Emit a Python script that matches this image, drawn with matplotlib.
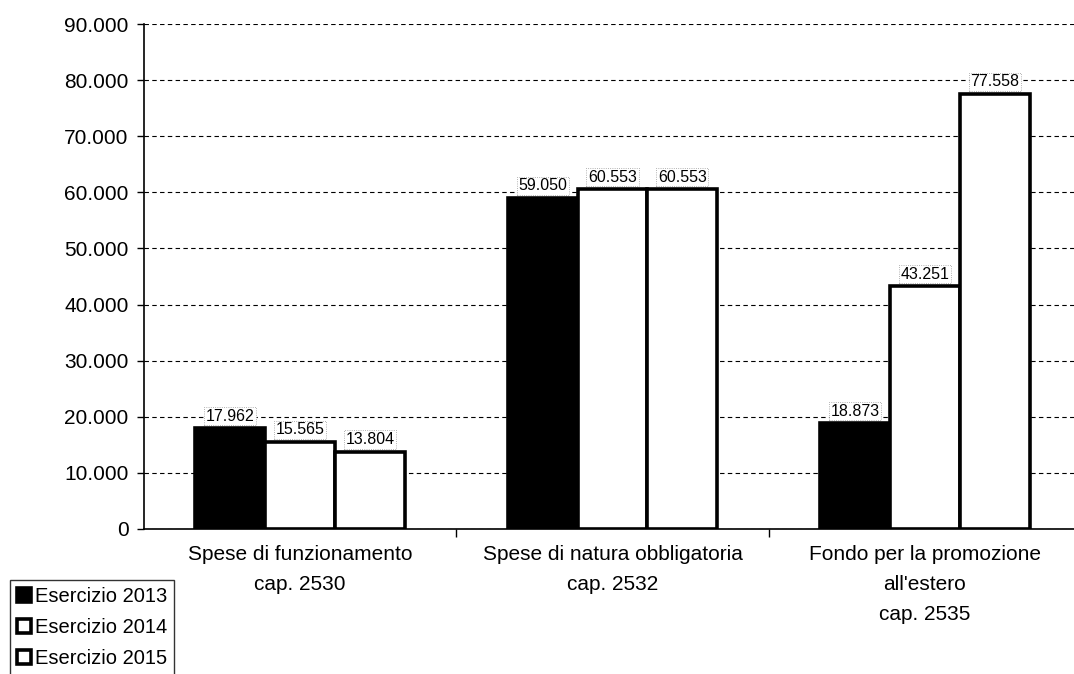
import numpy as np
import matplotlib.pyplot as plt

plt.rcParams['font.family'] = ['Liberation Sans', 'DejaVu Sans']

categories = ["Spese di funzionamento\ncap. 2530",
              "Spese di natura obbligatoria\ncap. 2532",
              "Fondo per la promozione\nall'estero\ncap. 2535"]
series_names = ["Esercizio 2013", "Esercizio 2014", "Esercizio 2015"]
v2013 = [17962, 59050, 18873]
v2014 = [15565, 60553, 43251]
v2015 = [13804, 60553, 77558]
series_values = [v2013, v2014, v2015]
colors = ["black", "white", "white"]
yticks = np.arange(0, 90001, 10000)


def it_fmt(v):
    return f"{v:,.0f}".replace(",", ".")


fig = plt.figure(figsize=(10.74, 6.74), dpi=100)
# axes run past the right edge of the page, as in the scanned original
ax = fig.add_axes([144 / 1074, 145 / 674, 937 / 1074, 505 / 674])

x = np.arange(len(categories))
w = 0.224
handles = []
for i, (name, vals) in enumerate(zip(series_names, series_values)):
    pos = x + (i - 1) * w
    b = ax.bar(pos, vals, width=w, color=colors[i], edgecolor="black",
               linewidth=2.6, label=name, zorder=3)
    handles.append(b)
    for px, v in zip(pos, vals):
        ax.text(px, v + 800, it_fmt(v), ha="center", va="bottom",
                fontsize=11.5, zorder=4,
                bbox=dict(boxstyle="square,pad=0.1", fc="white",
                          ec="0.6", ls=":", lw=0.6))

ax.set_xlim(-0.5, 2.5)
ax.set_ylim(0, 90000)
ax.set_yticks(yticks)
ax.set_yticklabels([it_fmt(t) for t in yticks], fontsize=15)
ax.yaxis.grid(True, linestyle=(0, (4, 3)), color="black", linewidth=0.8)
ax.set_axisbelow(True)

# group separator ticks on the category axis
ax.set_xticks([0.5, 1.5])
ax.set_xticklabels([])
ax.tick_params(axis="x", direction="out", length=6, width=1)
ax.tick_params(axis="y", direction="out", length=5, width=1, pad=6)
for xi, lab in zip(x, categories):
    ax.text(xi, -2800, lab, ha="center", va="top", fontsize=15,
            linespacing=1.75)

for s in ["top", "right"]:
    ax.spines[s].set_visible(False)
ax.spines["left"].set_linewidth(1.2)
ax.spines["bottom"].set_linewidth(1.2)

leg = fig.legend(handles=handles, labels=series_names, loc="upper left",
                 bbox_to_anchor=(10 / 1074, 1 - 580 / 674), fontsize=14.5,
                 frameon=True, fancybox=False, edgecolor="black",
                 handlelength=0.7, handleheight=0.7, handletextpad=0.2,
                 borderpad=0.35, labelspacing=0.6, borderaxespad=0.0)
leg.get_frame().set_linewidth(1.0)

fig.savefig("out.png", dpi=100)
